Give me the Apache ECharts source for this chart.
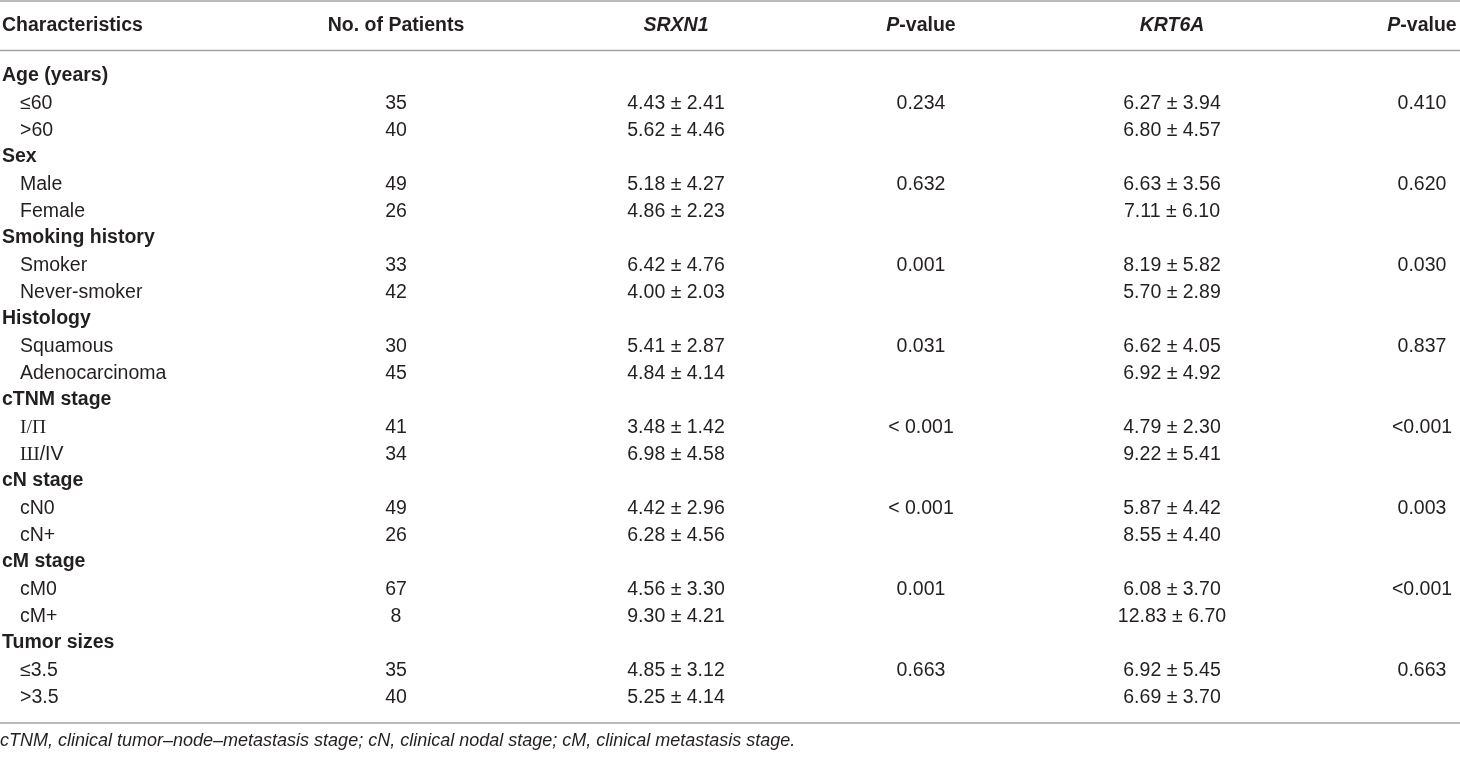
<!DOCTYPE html>
<html>
<head>
<meta charset="utf-8">
<title>SRXN1 / KRT6A by clinical characteristics</title>
<script src="https://cdn.jsdelivr.net/npm/echarts@6/dist/echarts.min.js"></script>
<style>
  html, body { margin: 0; padding: 0; background: #fff; }
  #main { width: 1460px; height: 762px; }
</style>
</head>
<body>
<div id="main"></div>
<script>
// table data
var headers = ['Characteristics', 'No. of Patients', 'SRXN1', 'P-value', 'KRT6A', 'P-value'];
var groups = ['Age (years)', 'Sex', 'Smoking history', 'Histology', 'cTNM stage', 'cN stage', 'cM stage', 'Tumor sizes'];
var subgroups = [
  ['≤60', '>60'], ['Male', 'Female'], ['Smoker', 'Never-smoker'], ['Squamous', 'Adenocarcinoma'],
  ['I/Π', 'Ш/IV'], ['cN0', 'cN+'], ['cM0', 'cM+'], ['≤3.5', '>3.5']
];
var patients = [[35, 40], [49, 26], [33, 42], [30, 45], [41, 34], [49, 26], [67, 8], [35, 40]];
var srxn1Mean = [[4.43, 5.62], [5.18, 4.86], [6.42, 4.00], [5.41, 4.84], [3.48, 6.98], [4.42, 6.28], [4.56, 9.30], [4.85, 5.25]];
var srxn1Sd = [[2.41, 4.46], [4.27, 2.23], [4.76, 2.03], [2.87, 4.14], [1.42, 4.58], [2.96, 4.56], [3.30, 4.21], [3.12, 4.14]];
var srxn1P = ['0.234', '0.632', '0.001', '0.031', '< 0.001', '< 0.001', '0.001', '0.663'];
var krt6aMean = [[6.27, 6.80], [6.63, 7.11], [8.19, 5.70], [6.62, 6.92], [4.79, 9.22], [5.87, 8.55], [6.08, 12.83], [6.92, 6.69]];
var krt6aSd = [[3.94, 4.57], [3.56, 6.10], [5.82, 2.89], [4.05, 4.92], [2.30, 5.41], [4.42, 4.40], [3.70, 6.70], [5.45, 3.70]];
var krt6aP = ['0.410', '0.620', '0.030', '0.837', '<0.001', '0.003', '<0.001', '0.663'];
var footnote = 'cTNM, clinical tumor–node–metastasis stage; cN, clinical nodal stage; cM, clinical metastasis stage.';

// layout
var FONT = '"Liberation Sans", Arial, Helvetica, sans-serif';
var SIZE = 19.5;
var INK = '#231f20';
var RULE = '#a3a3a3';
var colX = [2, 396, 676, 921, 1172, 1422];
var colAlign = ['left', 'center', 'center', 'center', 'center', 'center'];
var headerRich = ['Characteristics', 'No. of Patients', '{bi|SRXN1}', '{bi|P}-value', '{bi|KRT6A}', '{bi|P}-value'];
var romanRich = { 'I/Π': '{s|I/Π}', 'Ш/IV': '{s|Ш}/IV' };

function pm(m, s) { return m.toFixed(2) + ' ± ' + s.toFixed(2); }

// flatten to rows and cells
var rowNames = [];
var cells = [];
groups.forEach(function (g, gi) {
  var r = rowNames.length;
  rowNames.push(g);
  cells.push({ col: 0, row: r, text: g, bold: true, dy: -1 });
  subgroups[gi].forEach(function (sg, si) {
    var rr = rowNames.length;
    rowNames.push(sg);
    cells.push({ col: 0, row: rr, text: romanRich[sg] || sg, dx: 18 });
    cells.push({ col: 1, row: rr, text: String(patients[gi][si]) });
    cells.push({ col: 2, row: rr, text: pm(srxn1Mean[gi][si], srxn1Sd[gi][si]) });
    if (si === 0) cells.push({ col: 3, row: rr, text: srxn1P[gi] });
    cells.push({ col: 4, row: rr, text: pm(krt6aMean[gi][si], krt6aSd[gi][si]) });
    if (si === 0) cells.push({ col: 5, row: rr, text: krt6aP[gi] });
  });
});
headers.forEach(function (h, ci) {
  cells.push({ col: ci, row: 0, text: headerRich[ci], bold: true, dy: -51 });
});

var myChart = echarts.init(document.getElementById('main'));

var option = {
  animation: false,
  backgroundColor: '#fff',
  title: {
    text: footnote,
    left: 0,
    top: 732,
    padding: 0,
    textStyle: { fontFamily: FONT, fontSize: 18, fontStyle: 'italic', fontWeight: 'normal', color: INK }
  },
  grid: { left: 0, right: 0, top: 63, height: 648 },
  xAxis: { type: 'value', min: 0, max: 1460, show: false },
  yAxis: { type: 'category', inverse: true, data: rowNames, show: false },
  graphic: [
    { type: 'line', shape: { x1: 0, y1: 1, x2: 1460, y2: 1 }, style: { stroke: RULE, lineWidth: 1.5 } },
    { type: 'line', shape: { x1: 0, y1: 50.5, x2: 1460, y2: 50.5 }, style: { stroke: RULE, lineWidth: 1.5 } },
    { type: 'line', shape: { x1: 0, y1: 723, x2: 1460, y2: 723 }, style: { stroke: RULE, lineWidth: 1.5 } }
  ],
  series: [{
    type: 'custom',
    silent: true,
    clip: false,
    data: cells.map(function (c) { return [colX[c.col], c.row]; }),
    renderItem: function (params, api) {
      var c = cells[params.dataIndex];
      var pt = api.coord([api.value(0), api.value(1)]);
      return {
        type: 'text',
        x: pt[0] + (c.dx || 0),
        y: pt[1] + (c.dy || 0),
        style: {
          text: c.text,
          fill: INK,
          fontFamily: FONT,
          fontSize: SIZE,
          fontWeight: c.bold ? 'bold' : 'normal',
          align: colAlign[c.col],
          verticalAlign: 'middle',
          rich: {
            s: { fontFamily: '"Liberation Serif", "DejaVu Serif", serif', fontSize: SIZE, fill: INK },
            bi: { fontFamily: FONT, fontSize: SIZE, fontWeight: 'bold', fontStyle: 'italic', fill: INK }
          }
        }
      };
    }
  }]
};

myChart.setOption(option);
</script>
</body>
</html>
